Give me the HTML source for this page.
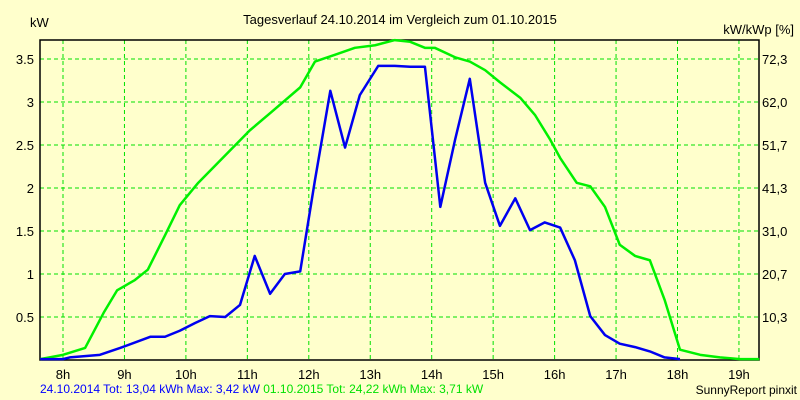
<!DOCTYPE html>
<html><head><meta charset="utf-8"><style>
body{margin:0;background:#FFFFCC;}
svg{display:block;font-family:"Liberation Sans",sans-serif;font-size:13px;}
</style></head><body>
<svg id="c" width="800" height="400">
<rect x="0" y="0" width="800" height="400" fill="#FFFFCC"/>
<g id="grid"></g>
<g id="axes"></g>
<g id="series"></g>
<text x="400" y="24" text-anchor="middle" fill="#000">Tagesverlauf 24.10.2014 im Vergleich zum 01.10.2015</text>
<text x="30" y="27" fill="#000">kW</text>
<text x="794" y="34" text-anchor="end" fill="#000">kW/kWp [%]</text>
<text x="40" y="393" fill="#0000FF" font-size="12">24.10.2014 Tot: 13,04 kWh Max: 3,42 kW <tspan fill="#00E000">01.10.2015 Tot: 24,22 kWh Max: 3,71 kW</tspan></text>
<text x="797" y="394" text-anchor="end" fill="#000" font-size="12">SunnyReport pinxit</text>
</svg>
<script>
const hourTicks=[8,9,10,11,12,13,14,15,16,17,18,19];
const yTicks=[0.5,1,1.5,2,2.5,3,3.5];
const y2Labels=["10,3","20,7","31,0","41,3","51,7","62,0","72,3"];
const greenH=[7.63,8.0,8.36,8.67,8.88,9.17,9.38,9.66,9.90,10.20,10.64,11.04,11.37,11.86,12.10,12.43,12.75,13.08,13.40,13.65,13.89,14.05,14.38,14.62,14.87,15.11,15.44,15.68,15.93,16.09,16.36,16.58,16.82,17.06,17.31,17.55,17.79,18.04,18.37,18.69,19.02,19.33];
const greenV=[0.01,0.06,0.14,0.56,0.81,0.93,1.05,1.45,1.80,2.06,2.38,2.67,2.87,3.17,3.47,3.55,3.63,3.66,3.72,3.70,3.63,3.63,3.52,3.47,3.37,3.23,3.05,2.85,2.56,2.35,2.06,2.02,1.78,1.34,1.21,1.16,0.70,0.12,0.06,0.03,0.01,0.01];
const blueH=[7.63,8.0,8.11,8.60,8.93,9.42,9.66,9.90,10.15,10.39,10.64,10.88,11.12,11.37,11.61,11.86,12.10,12.35,12.59,12.83,13.13,13.40,13.65,13.89,14.14,14.38,14.62,14.87,15.11,15.36,15.60,15.84,16.09,16.33,16.58,16.82,17.06,17.31,17.55,17.79,18.04];
const blueV=[0.01,0.01,0.03,0.06,0.14,0.27,0.27,0.34,0.43,0.51,0.50,0.64,1.21,0.77,1.0,1.03,2.09,3.13,2.47,3.08,3.42,3.42,3.41,3.41,1.78,2.56,3.27,2.06,1.56,1.88,1.51,1.60,1.54,1.16,0.51,0.29,0.19,0.15,0.10,0.03,0.01];
const L=40,R=759,T=40,B=360;
const xs=h=>63+(h-8)*61.45;
const ys=v=>B-v*86;
const NS="http://www.w3.org/2000/svg";
function mk(tag,parent,attrs){const e=document.createElementNS(NS,tag);for(const k in attrs)e.setAttribute(k,attrs[k]);parent.appendChild(e);return e;}
const grid=document.getElementById('grid'),axes=document.getElementById('axes'),series=document.getElementById('series');
hourTicks.forEach(h=>{
  const l=mk('line',grid,{x1:xs(h),x2:xs(h),y1:T,y2:B,stroke:'#00E000','stroke-dasharray':'4,3'});
  
  
  const t=mk('text',axes,{x:xs(h),y:379,'text-anchor':'middle',fill:'#000'});
  t.textContent=h+'h';
  
  
});
yTicks.forEach((v,i)=>{
  const l=mk('line',grid,{x1:L,x2:R,y1:ys(v),y2:ys(v),stroke:'#00E000','stroke-dasharray':'4,3'});
  
  
  const t=mk('text',axes,{x:34,y:ys(v)+5,'text-anchor':'end',fill:'#000'});
  t.textContent=String(v);
  
  
  const t2=mk('text',axes,{x:762,y:ys(v)+5,fill:'#000'});
  t2.textContent=y2Labels[i];
  
  
});
const frame=mk('path',axes,{d:`M${L},${T}H${R}V${B}H${L}Z`,fill:'none',stroke:'#000','stroke-width':1.5});


function line(H,V,color,name){
  const p=mk('polyline',series,{points:H.map((h,i)=>xs(h)+','+ys(V[i])).join(' '),fill:'none',stroke:color,'stroke-width':2.5,'stroke-linejoin':'round'});
  
  
}
line(greenH,greenV,'#00F000','series-2015');
line(blueH,blueV,'#0000F0','series-2014');
</script>
</body></html>
